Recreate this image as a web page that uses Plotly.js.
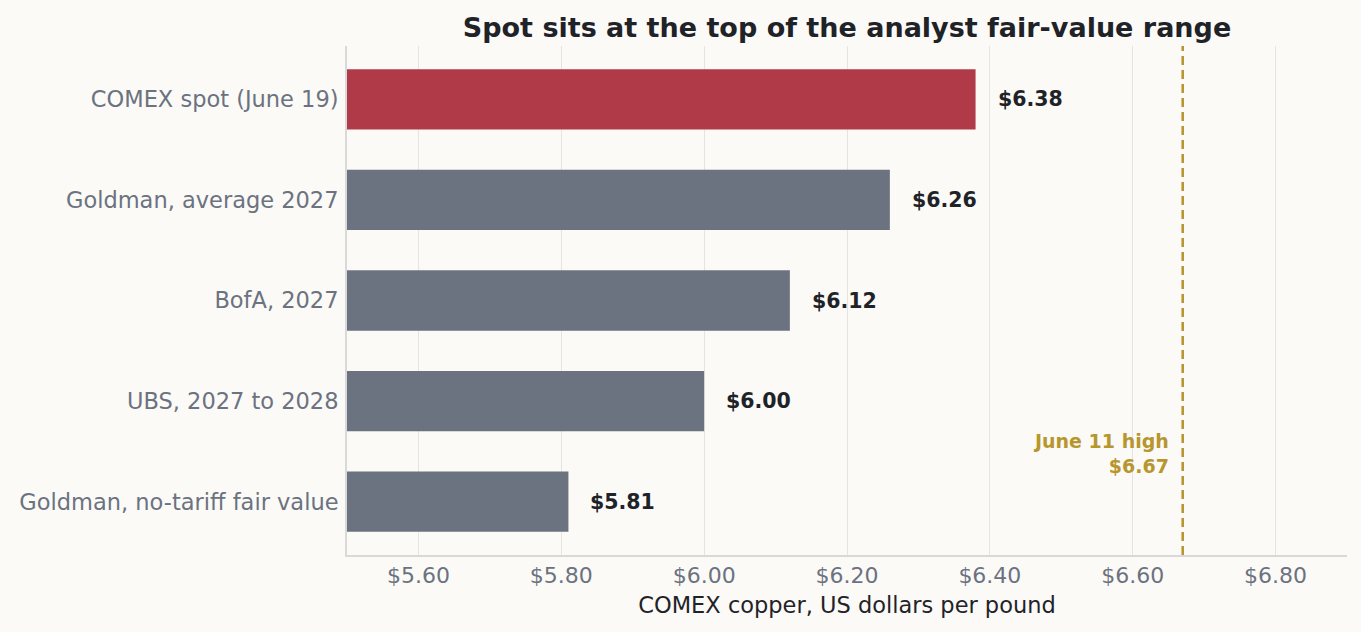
<!DOCTYPE html>
<html>
<head>
<meta charset="utf-8">
<script src="https://cdn.plot.ly/plotly-3.0.1.min.js"></script>
<style>
  html, body { margin: 0; padding: 0; background: #fbfaf7; }
  #chart { width: 1361px; height: 632px; }
</style>
</head>
<body>
<div id="chart"></div>
<script>
// bottom to top, as plotted
const labels = ["Goldman, no-tariff fair value", "UBS, 2027 to 2028", "BofA, 2027", "Goldman, average 2027", "COMEX spot (June 19)"];
const prices = [5.81, 6.00, 6.12, 6.26, 6.38];
const barColors = ["#6b7280", "#6b7280", "#6b7280", "#6b7280", "#b03a48"];
const juneHigh = 6.67;
const xTicks = [5.6, 5.8, 6.0, 6.2, 6.4, 6.6, 6.8];

const FONT = "DejaVu Sans, sans-serif";

const trace = {
    type: "bar", orientation: "h",
    y: labels, x: prices, base: 0,
    marker: { color: barColors },
    width: 0.6,
    hoverinfo: "skip"
};

const valueNotes = prices.map((v, i) => ({
    x: v, y: labels[i], xref: "x", yref: "y",
    text: "$" + v.toFixed(2), showarrow: false,
    xanchor: "left", xshift: 20,
    font: { family: FONT, size: 20.5, color: "#1f2328", weight: "bold" }
}));

const layout = {
    width: 1361, height: 632,
    paper_bgcolor: "#fbfaf7", plot_bgcolor: "#fbfaf7",
    margin: { l: 347, r: 14, t: 46, b: 77 },
    font: { family: FONT, color: "#6b7280" },
    showlegend: false,
    title: {
        text: "<b>Spot sits at the top of the analyst fair-value range</b>",
        x: 0.5, xref: "paper", xanchor: "center",
        y: 0.957, yref: "container", yanchor: "middle",
        font: { family: FONT, size: 27, color: "#1f2328" }
    },
    xaxis: {
        range: [5.5, 6.9],
        tickvals: xTicks,
        ticktext: xTicks.map(t => "$" + t.toFixed(2)),
        tickfont: { family: FONT, size: 22, color: "#6b7280" },
        showgrid: true, gridcolor: "#e6e4df", gridwidth: 1,
        zeroline: false,
        showline: true, linecolor: "#d9d9d9", linewidth: 2,
        ticks: "", ticklen: 0,
        title: { text: "COMEX copper, US dollars per pound", standoff: 10,
                 font: { family: FONT, size: 22.5, color: "#1f2328" } }
    },
    yaxis: {
        range: [-0.53, 4.53],
        tickfont: { family: FONT, size: 22.5, color: "#6b7280" },
        showgrid: false, zeroline: false,
        showline: true, linecolor: "#d9d9d9", linewidth: 2,
        ticks: "", ticklen: 0, ticklabelstandoff: 2
    },
    shapes: [{
        type: "line", xref: "x", yref: "paper",
        x0: juneHigh, x1: juneHigh, y0: 0, y1: 1,
        line: { color: "#b8922e", width: 2.5, dash: "9px,5px" }
    }],
    annotations: valueNotes.concat([{
        x: juneHigh, y: 0.2, xref: "x", yref: "paper",
        text: "June 11 high<br>$" + juneHigh.toFixed(2),
        showarrow: false, align: "right",
        xanchor: "right", yanchor: "middle", xshift: -12,
        font: { family: FONT, size: 19, color: "#b8962e", weight: "bold" }
    }])
};

Plotly.newPlot("chart", [trace], layout, { displayModeBar: false, responsive: false });
</script>
</body>
</html>
